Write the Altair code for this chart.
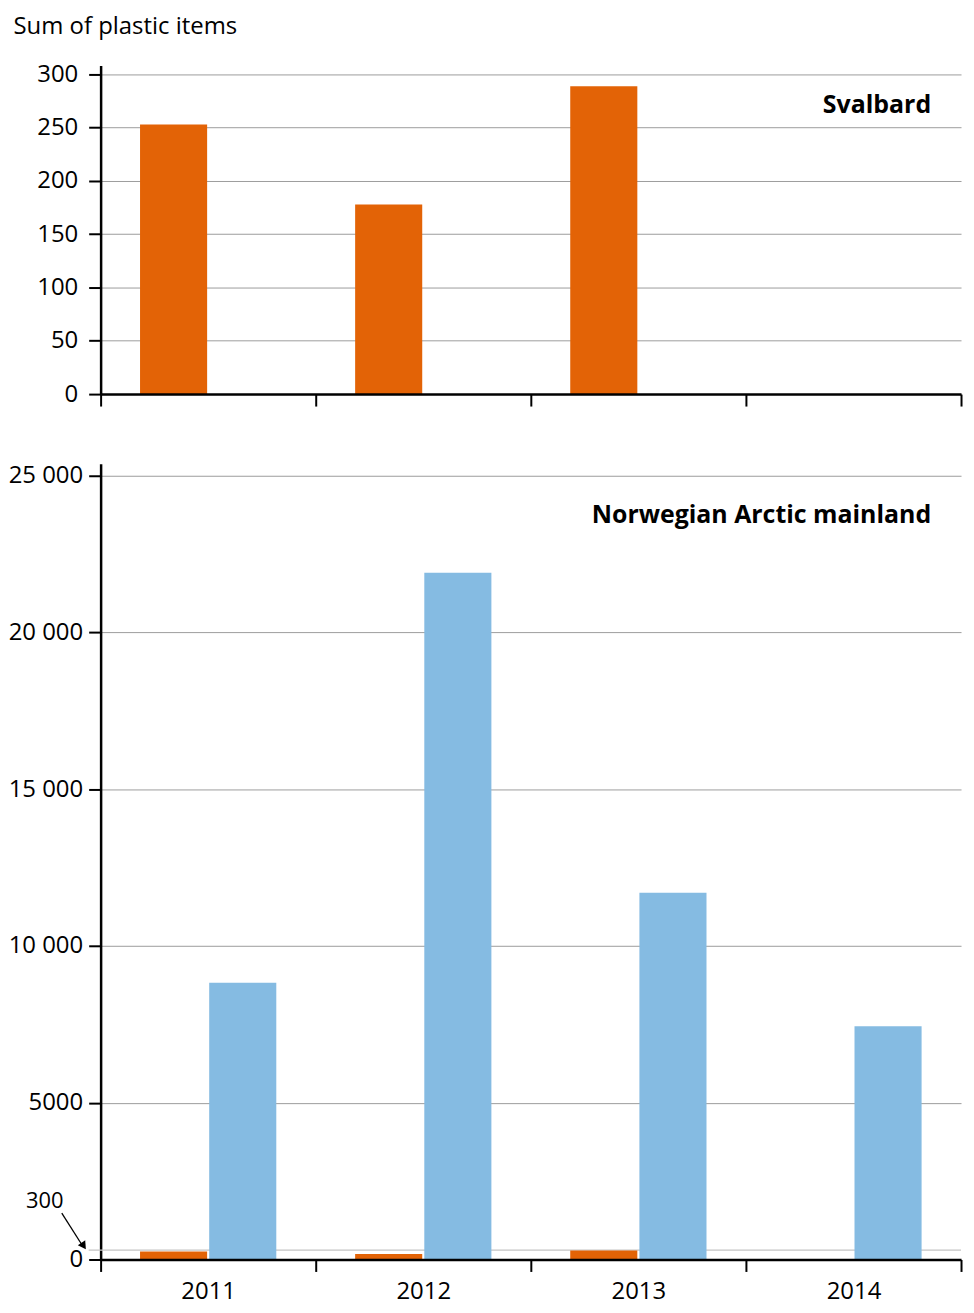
import altair as alt
import pandas as pd

years = ["2011", "2012", "2013", "2014"]
svalbard_values = [253, 178, 289, None]
mainland_values = [8830, 21900, 11700, 7440]
regions = ["Svalbard", "Mainland"]
region_colors = ["#E36306", "#85BBE2"]
panel_titles = ["Svalbard", "Norwegian Arctic mainland"]
y_title = "Sum of plastic items"
top_ticks = [0, 50, 100, 150, 200, 250, 300]
bottom_ticks = [0, 5000, 10000, 15000, 20000, 25000]
marker_value = 300
marker_label = "300"

FONT = "Open Sans"
W = 864
H_TOP = 330
H_BOT = 799

rows_top = [{"year": y, "region": "Svalbard", "value": v}
            for y, v in zip(years, svalbard_values) if v is not None]
rows_bot = rows_top + [{"year": y, "region": "Mainland", "value": v}
                       for y, v in zip(years, mainland_values) if v is not None]
df_top = pd.DataFrame(rows_top)
df_bot = pd.DataFrame(rows_bot)

color = alt.Color("region:N", scale=alt.Scale(domain=regions, range=region_colors), legend=None)
xoff = alt.XOffset("region:N", scale=alt.Scale(domain=regions, paddingInner=0.03, paddingOuter=0.57))


def x_enc(show_labels):
    return alt.X(
        "year:N",
        scale=alt.Scale(domain=years, paddingInner=0, paddingOuter=0),
        axis=alt.Axis(
            title=None, labels=show_labels, labelAngle=0, labelFontSize=24,
            labelPadding=8, labelColor="black", tickBand="extent", tickSize=12,
            tickWidth=2, tickColor="black", domainColor="black", domainWidth=2.5,
            grid=False, zindex=1,
        ),
    )


top_bars = alt.Chart(df_top).mark_bar().encode(
    x=x_enc(False),
    xOffset=xoff,
    y=alt.Y(
        "value:Q",
        scale=alt.Scale(domain=[0, 308.4], nice=False),
        axis=alt.Axis(
            values=top_ticks, title=y_title, titleAngle=0, titleAlign="left",
            titleBaseline="alphabetic", titleX=-88, titleY=-32, titleFontSize=24,
            titleFontWeight="normal", titleColor="black", labelFontSize=24,
            labelPadding=11, labelColor="black", tickSize=12, tickWidth=2,
            tickColor="black", domainColor="black", domainWidth=2.5,
            grid=True, gridColor="#9c9c9c", gridWidth=1,
        ),
    ),
    color=color,
)

top_label = alt.Chart(pd.DataFrame({"t": [panel_titles[0]]})).mark_text(
    align="right", baseline="alphabetic", fontSize=25, fontWeight="bold", color="black", font=FONT
).encode(x=alt.value(834), y=alt.value(48), text="t:N")

top = alt.layer(top_bars, top_label).properties(width=W, height=H_TOP)

marker_rule = alt.Chart(pd.DataFrame({"v": [marker_value]})).mark_rule(
    color="#c4c4c4", strokeWidth=1.2
).encode(y=alt.Y("v:Q"), x=alt.value(-12), x2=alt.value(W))

bot_bars = alt.Chart(df_bot).mark_bar().encode(
    x=x_enc(True),
    xOffset=xoff,
    y=alt.Y(
        "value:Q",
        scale=alt.Scale(domain=[0, 25378], nice=False),
        axis=alt.Axis(
            values=bottom_ticks, title=None,
            labelExpr="datum.value >= 10000 ? replace(format(datum.value, ','), ',', ' ') : format(datum.value, 'd')",
            labelFontSize=24, labelPadding=6, labelColor="black", tickSize=12,
            tickWidth=2, tickColor="black", domainColor="black", domainWidth=2.5,
            grid=True, gridColor="#9c9c9c", gridWidth=1,
        ),
    ),
    color=color,
)

bot_label = alt.Chart(pd.DataFrame({"t": [panel_titles[1]]})).mark_text(
    align="right", baseline="alphabetic", fontSize=25, fontWeight="bold", color="black", font=FONT
).encode(x=alt.value(834), y=alt.value(59), text="t:N")

ann = pd.DataFrame({"label": [marker_label], "ty": [1880], "y0": [1480], "y1": [430]})
ann_text = alt.Chart(ann).mark_text(
    fontSize=22, color="black", font=FONT, align="center", baseline="middle"
).encode(x=alt.value(-56), y=alt.Y("ty:Q"), text="label:N")
ann_line = alt.Chart(ann).mark_rule(color="black", strokeWidth=1.3).encode(
    x=alt.value(-39), x2=alt.value(-18), y=alt.Y("y0:Q"), y2=alt.Y2("y1:Q")
)
ann_head = alt.Chart(ann).mark_point(
    shape="triangle-up", filled=True, color="black", size=80, angle=146, opacity=1
).encode(x=alt.value(-17), y=alt.Y("y1:Q"))

bottom = alt.layer(marker_rule, bot_bars, bot_label, ann_line, ann_head, ann_text).resolve_scale(
    y="shared"
).properties(width=W, height=H_BOT)

chart = alt.vconcat(top, bottom, spacing=56).properties(
    padding={"left": 0, "top": 4, "right": 4, "bottom": 0}
).configure(font=FONT).configure_view(stroke=None)

chart.save("out.html", embed_options={"renderer": "svg", "actions": False})
